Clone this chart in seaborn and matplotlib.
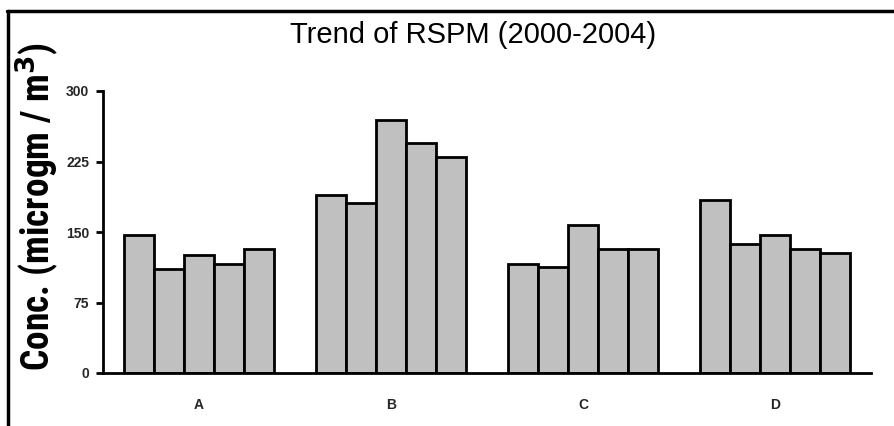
import matplotlib
matplotlib.use("Agg")
import matplotlib.pyplot as plt
import seaborn as sns
import pandas as pd
from matplotlib.lines import Line2D
from matplotlib import font_manager

sites = ["A", "B", "C", "D"]
years = ["2000", "2001", "2002", "2003", "2004"]
site_A = [147, 111, 126, 116, 132]
site_B = [189, 181, 269, 245, 230]
site_C = [116, 113, 157, 132, 132]
site_D = [184, 137, 147, 132, 128]
y_ticks = [0, 75, 150, 225, 300]

rows = []
for s, vals in zip(sites, [site_A, site_B, site_C, site_D]):
    for yr, v in zip(years, vals):
        rows.append({"site": s, "year": yr, "value": v})
df = pd.DataFrame(rows)

sns.set_theme(style="white")
plt.rcParams["font.family"] = ["Liberation Sans", "DejaVu Sans"]

# pick a condensed face for the y label if one is installed
installed = {f.name for f in font_manager.fontManager.ttflist}
ylab_font, ylab_size = ["Liberation Sans", "DejaVu Sans"], 24
for nm, sz in [("Liberation Sans Narrow", 28), ("Roboto Condensed", 27)]:
    if nm in installed:
        ylab_font, ylab_size = [nm, "DejaVu Sans"], sz
        break

fig = plt.figure(figsize=(8.94, 4.26), dpi=100)
ax = fig.add_axes([103 / 894, 1 - 373 / 426, 768 / 894, 282 / 426])

sns.barplot(data=df, x="site", y="value", hue="year", order=sites, hue_order=years,
            palette=["#c0c0c0"] * 5, edgecolor="black", linewidth=2, width=0.78,
            errorbar=None, legend=False, ax=ax, saturation=1)

ax.set_xlim(-0.5, 3.5)
ax.set_ylim(0, 300)
ax.set_yticks(y_ticks)
ax.set_yticklabels([str(t) for t in y_ticks], fontsize=10, fontweight="bold")
ax.set_xticks(range(len(sites)))
ax.set_xticklabels(sites, fontsize=10, fontweight="bold")
ax.set_xticks([-0.5, 0.5, 1.5, 2.5, 3.5], minor=True)
ax.tick_params(axis="x", which="major", length=0, pad=18)
ax.tick_params(axis="x", which="minor", length=5, width=2, direction="out", color="black")
ax.tick_params(axis="y", which="major", length=5, width=2, direction="out", color="black",
               pad=5, left=True)
ax.set_xlabel("")
ax.set_ylabel("")
for side in ["top", "right"]:
    ax.spines[side].set_visible(False)
for side in ["left", "bottom"]:
    ax.spines[side].set_linewidth(2)
    ax.spines[side].set_color("black")

fig.text(473 / 894, 1 - 43 / 426, "Trend of RSPM (2000-2004)", ha="center", va="baseline",
         fontsize=21, color="black")
fig.text(37 / 894, 1 - 206 / 426, "Conc. (microgm / m$^{\\mathbf{3}}$)", rotation=90,
         ha="center", va="center", fontsize=ylab_size, fontweight="bold", color="black",
         family=ylab_font)

fig.add_artist(Line2D([7 / 894, 1.0], [1 - 11 / 426, 1 - 11 / 426], transform=fig.transFigure,
                      color="black", linewidth=2.5))
fig.add_artist(Line2D([8 / 894, 8 / 894], [1 - 11 / 426, 0], transform=fig.transFigure,
                      color="black", linewidth=2.5))

fig.savefig("out.png", dpi=100)
